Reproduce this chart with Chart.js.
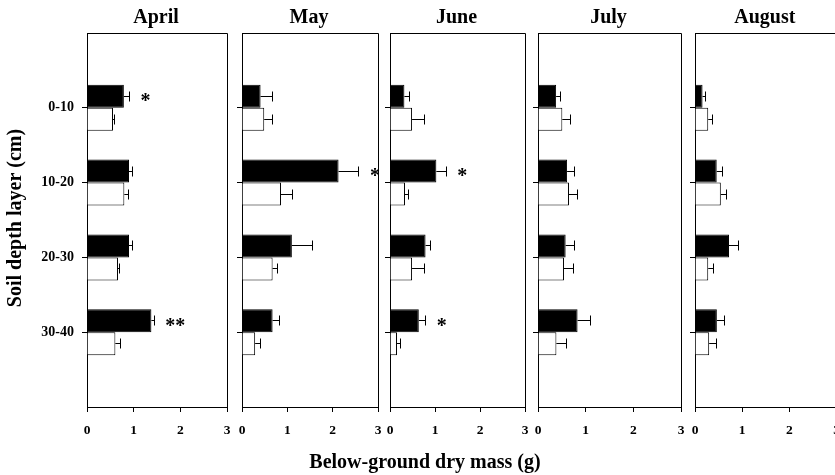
<!DOCTYPE html>
<html>
<head>
<meta charset="utf-8">
<script src="https://cdn.jsdelivr.net/npm/chart.js@4.4.1/dist/chart.umd.min.js"></script>
<style>
  html, body { margin: 0; padding: 0; background: #fff; overflow: hidden; }
  #wrap { position: relative; width: 835px; height: 475px; overflow: hidden; }
  #wrap canvas { position: absolute; left: 0; top: 0; }
</style>
</head>
<body>
<div id="wrap"></div>
<script>
const months = ["April", "May", "June", "July", "August"];
const layers = ["0-10", "10-20", "20-30", "30-40"];

// upper (black) bars, one row per month
const blackMass = [
  [0.79, 0.90, 0.90, 1.38],
  [0.41, 2.13, 1.10, 0.675],
  [0.32, 1.03, 0.79, 0.64],
  [0.38, 0.61, 0.58, 0.83],
  [0.16, 0.46, 0.72, 0.463],
];
const blackErr = [
  [0.12, 0.065, 0.085, 0.06],
  [0.26, 0.45, 0.46, 0.145],
  [0.12, 0.22, 0.10, 0.155],
  [0.10, 0.15, 0.18, 0.27],
  [0.055, 0.12, 0.21, 0.155],
];
// lower (white) bars
const whiteMass = [
  [0.557, 0.80, 0.664, 0.608],
  [0.49, 0.86, 0.675, 0.29],
  [0.49, 0.333, 0.49, 0.156],
  [0.51, 0.65, 0.545, 0.386],
  [0.28, 0.547, 0.28, 0.30],
];
const whiteErr = [
  [0.03, 0.09, 0.04, 0.12],
  [0.19, 0.26, 0.11, 0.12],
  [0.27, 0.067, 0.27, 0.075],
  [0.175, 0.17, 0.2, 0.21],
  [0.09, 0.13, 0.105, 0.155],
];
// significance marks next to the black bars
const stars = [
  ["*", "", "", "**"],
  ["", "*", "", ""],
  ["", "*", "", "*"],
  ["", "", "", ""],
  ["", "", "", ""],
];

// layout of the five panels
const W = 850, H = 475;
const panelLeft = [87, 242, 390, 538, 695];
const panelRight = [227, 378, 525, 681, 838];
const plotTop = 33, plotBottom = 407;
const FONT = "'Liberation Serif', 'Times New Roman', serif";

const al = (p) => Math.round(p - 0.5) + 0.5;

// error bars drawn after the bars
const errorBars = {
  id: "errorBars",
  afterDatasetsDraw(chart, args, opts) {
    const ctx = chart.ctx;
    const xs = chart.scales.x;
    ctx.save();
    ctx.strokeStyle = "#000";
    ctx.lineWidth = 1;
    opts.errors.forEach((errs, d) => {
      const meta = chart.getDatasetMeta(d);
      meta.data.forEach((bar, j) => {
        const v = chart.data.datasets[d].data[j];
        if (v == null) return;
        const x0 = bar.x;
        const x1 = al(xs.getPixelForValue(v + errs[j - 1]));
        const y = al(bar.y);
        ctx.beginPath();
        ctx.moveTo(x0, y);
        ctx.lineTo(x1, y);
        ctx.moveTo(x1, y - 5);
        ctx.lineTo(x1, y + 5);
        ctx.stroke();
      });
    });
    ctx.restore();
  },
};

// box, month title, asterisks and shared axis titles
const panelText = {
  id: "panelText",
  afterDraw(chart, args, opts) {
    const ctx = chart.ctx;
    const a = chart.chartArea;
    const xs = chart.scales.x;
    ctx.save();
    ctx.strokeStyle = "#000";
    ctx.lineWidth = 1;
    ctx.beginPath();
    ctx.moveTo(al(a.left), al(a.top));
    ctx.lineTo(al(a.right), al(a.top));
    ctx.lineTo(al(a.right), al(a.bottom));
    ctx.stroke();

    ctx.fillStyle = "#000";
    ctx.font = "bold 20px " + FONT;
    ctx.textAlign = "center";
    ctx.textBaseline = "alphabetic";
    ctx.fillText(opts.title, (a.left + a.right) / 2 - 1, 23);

    const meta = chart.getDatasetMeta(0);
    ctx.textAlign = "left";
    opts.marks.forEach((m, j) => {
      if (!m) return;
      const bar = meta.data[j + 1];
      const v = chart.data.datasets[0].data[j + 1];
      const end = xs.getPixelForValue(v + opts.errs[j]);
      ctx.fillText(m, end + 11, bar.y + 11);
    });

    if (opts.axisTitles) {
      ctx.textAlign = "center";
      ctx.fillText("Below-ground dry mass (g)", 425, 468);
      ctx.translate(16, 218);
      ctx.rotate(-Math.PI / 2);
      ctx.textBaseline = "middle";
      ctx.fillText("Soil depth layer (cm)", 0, 0);
    }
    ctx.restore();
  },
};

const wrap = document.getElementById("wrap");

months.forEach((month, i) => {
  const cv = document.createElement("canvas");
  cv.width = W;
  cv.height = H;
  wrap.appendChild(cv);

  const yWidth = i === 0 ? panelLeft[0] : 8;

  new Chart(cv, {
    type: "bar",
    data: {
      labels: ["", ...layers, ""],
      datasets: [
        {
          data: [null, ...blackMass[i], null],
          backgroundColor: "#000",
          borderColor: "#000",
          borderWidth: 1,
        },
        {
          data: [null, ...whiteMass[i], null],
          backgroundColor: "#fff",
          borderColor: "#000",
          borderWidth: 1,
        },
      ],
    },
    options: {
      indexAxis: "y",
      responsive: false,
      animation: false,
      layout: {
        padding: {
          left: panelLeft[i] - yWidth,
          right: W - panelRight[i],
          top: plotTop,
          bottom: 0,
        },
      },
      datasets: {
        bar: { categoryPercentage: 0.615, barPercentage: 1 },
      },
      plugins: {
        legend: { display: false },
        tooltip: { enabled: false },
        errorBars: { errors: [blackErr[i], whiteErr[i]] },
        panelText: {
          title: month,
          marks: stars[i],
          errs: blackErr[i],
          axisTitles: i === 0,
        },
      },
      scales: {
        x: {
          min: 0,
          max: 3,
          ticks: {
            stepSize: 1,
            color: "#000",
            padding: 10,
            maxRotation: 0,
            font: { family: FONT, size: 13.5, weight: "bold" },
          },
          grid: { drawOnChartArea: false, tickLength: 5, color: "#000" },
          border: { color: "#000" },
          afterFit: (s) => { s.height = H - plotBottom; },
        },
        y: {
          offset: false,
          ticks: {
            display: i === 0,
            color: "#000",
            padding: 8,
            font: { family: FONT, size: 14, weight: "bold" },
          },
          grid: {
            offset: false,
            drawOnChartArea: false,
            tickLength: 5,
            tickColor: (ctx) => (ctx.index > 0 && ctx.index < 5 ? "#000" : "rgba(0,0,0,0)"),
          },
          border: { color: "#000" },
          afterFit: (s) => { s.width = yWidth; },
        },
      },
    },
    plugins: [errorBars, panelText],
  });
});
</script>
</body>
</html>
